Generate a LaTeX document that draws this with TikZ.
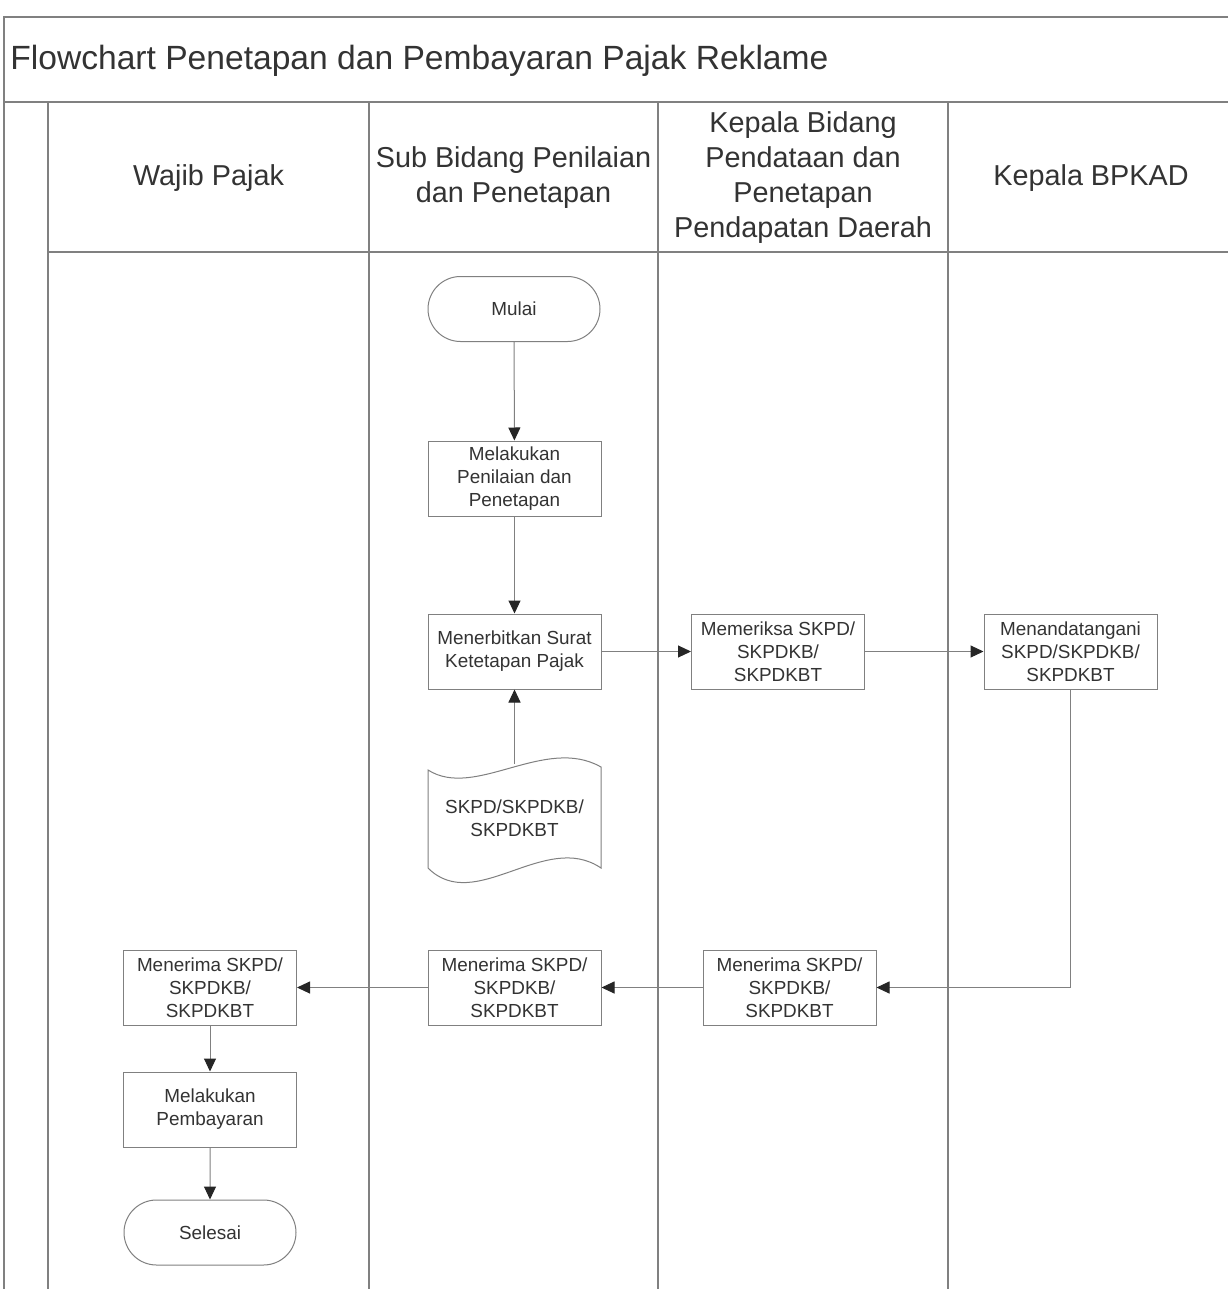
\documentclass[tikz,border=0pt]{standalone}
\usepackage{fontspec}
\setmainfont{Liberation Sans}
\usetikzlibrary{arrows.meta,shapes.misc}

\definecolor{linegray}{gray}{0.5}
\definecolor{txt}{gray}{0.2}

\tikzset{
  frame/.style={draw=linegray, line width=0.55pt},
  stepbox/.style={draw=linegray, line width=0.5pt, minimum width=86.5pt,
    minimum height=37.5pt, inner sep=0pt, align=center, text=txt,
    font=\fontsize{9.45}{11.5}\selectfont},
  term/.style={stepbox, rounded rectangle, minimum width=86pt, minimum height=32.5pt},
  doctext/.style={align=center, text=txt, inner sep=0pt, font=\fontsize{9.45}{11.5}\selectfont},
  lanehead/.style={align=center, text=txt, inner sep=0pt, font=\fontsize{14.4}{17.5}\selectfont},
  flow/.style={draw=linegray, line width=0.5pt,
    -{Triangle[length=6.5pt,width=6pt,color=black!85]}},
}

\begin{document}
\begin{tikzpicture}[x=0.5pt,y=-0.5pt]
% page background fixes the extent
\fill[white] (0,0) rectangle (1228,1289);
\useasboundingbox (0,0) rectangle (1228,1289);

% outer frame, title row and swimlanes
\draw[frame] (1228,17) -- (4,17) -- (4,1289);
\draw[frame] (4,102) -- (1228,102);
\draw[frame] (48,252) -- (1228,252);
\foreach \lx in {48,369,658,948} \draw[frame] (\lx,102) -- (\lx,1289);

% title
\node[anchor=base west, inner sep=0pt, text=txt, font=\fontsize{16.8}{20}\selectfont]
  (title) at (10,70) {Flowchart Penetapan dan Pembayaran Pajak Reklame};

% lane headings
\node[lanehead] (h1) at (208.5,178) {Wajib Pajak};
\node[lanehead] (h2) at (513.5,178) {Sub Bidang Penilaian\\dan Penetapan};
\node[lanehead] (h3) at (803,178) {Kepala Bidang\\Pendataan dan\\Penetapan\\Pendapatan Daerah};
\node[lanehead] (h4) at (1091,178) {Kepala BPKAD};

% process steps
\node[term] (mulai) at (514,309) {Mulai};
\node[stepbox] (nilai) at (514.5,478.5) {Melakukan\\Penilaian dan\\Penetapan};
\node[stepbox] (terbit) at (514.5,651.5) {Menerbitkan Surat\\Ketetapan Pajak};
\node[stepbox] (periksa) at (778,651.5) {Memeriksa SKPD/\\SKPDKB/\\SKPDKBT};
\node[stepbox] (tanda) at (1070.5,651.5) {Menandatangani\\SKPD/SKPDKB/\\SKPDKBT};
\node[stepbox] (terima3) at (789.5,987.5) {Menerima SKPD/\\SKPDKB/\\SKPDKBT};
\node[stepbox] (terima2) at (514.5,987.5) {Menerima SKPD/\\SKPDKB/\\SKPDKBT};
\node[stepbox] (terima1) at (210,987.5) {Menerima SKPD/\\SKPDKB/\\SKPDKBT};
\node[stepbox] (bayar) at (210,1109.5) {Melakukan\\Pembayaran};
\node[term] (selesai) at (210,1232.5) {Selesai};

% document symbol
\draw[draw=linegray, line width=0.5pt, fill=white]
  (428,770) .. controls (475,800) and (545,735) .. (601,767)
  -- (601,868) .. controls (545,830) and (475,915) .. (428,868) -- cycle;
\node[doctext] (doc) at (514.5,818) {SKPD/SKPDKB/\\SKPDKBT};
\coordinate (doctop) at (514.5,764);

% connectors
\draw[flow] (mulai) -- (nilai);
\draw[flow] (nilai) -- (terbit);
\draw[flow] (doctop) -- (terbit);
\draw[flow] (terbit) -- (periksa);
\draw[flow] (periksa) -- (tanda);
\draw[flow] (tanda.south) |- (terima3.east);
\draw[flow] (terima3) -- (terima2);
\draw[flow] (terima2) -- (terima1);
\draw[flow] (terima1) -- (bayar);
\draw[flow] (bayar) -- (selesai);
\end{tikzpicture}
\end{document}
